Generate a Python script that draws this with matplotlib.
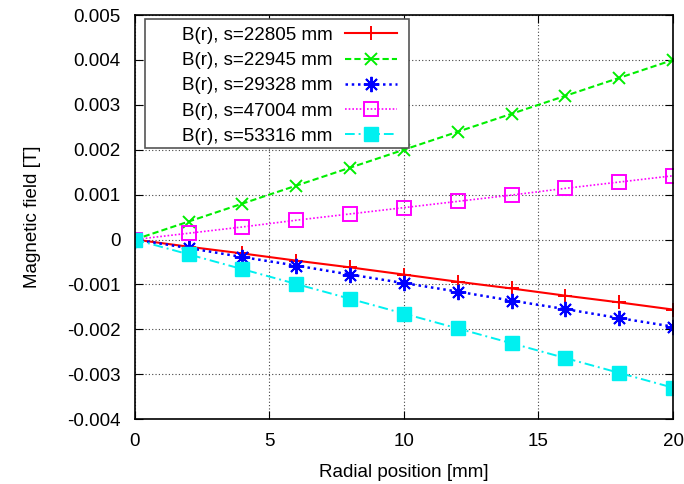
import matplotlib
matplotlib.use("Agg")
import matplotlib.pyplot as plt
from matplotlib.patches import Rectangle

plt.rcParams['font.family'] = ['Liberation Sans', 'DejaVu Sans']

r_mm = [0, 2, 4, 6, 8, 10, 12, 14, 16, 18, 20]

b_22805 = [0, -0.00016, -0.00031, -0.00047, -0.00062, -0.00078, -0.00094, -0.00109, -0.00125, -0.0014, -0.00156]
b_22945 = [0, 0.0004, 0.0008, 0.0012, 0.0016, 0.002, 0.0024, 0.0028, 0.0032, 0.0036, 0.004]
b_29328 = [0, -0.00019, -0.00039, -0.00058, -0.00078, -0.00097, -0.00116, -0.00136, -0.00155, -0.00175, -0.00194]
b_47004 = [0, 0.00014, 0.00028, 0.00043, 0.00057, 0.00071, 0.00085, 0.00099, 0.00114, 0.00128, 0.00142]
b_53316 = [0, -0.00033, -0.00066, -0.00099, -0.00132, -0.00165, -0.00198, -0.00231, -0.00264, -0.00297, -0.0033]

labels = ["B(r), s=22805 mm", "B(r), s=22945 mm", "B(r), s=29328 mm",
          "B(r), s=47004 mm", "B(r), s=53316 mm"]

fs = 13.5

fig = plt.figure(figsize=(6.84, 4.84), dpi=100)
ax = fig.add_axes([0.197, 0.134, 0.787, 0.835])

ax.plot(r_mm, b_22805, color="#ff0000", ls="-", lw=1.5, marker="+", ms=10, mew=1.4, label=labels[0])
ax.plot(r_mm, b_22945, color="#00ee00", ls=(0, (3, 1.5)), lw=1.5, marker="x", ms=9, mew=1.4, label=labels[1])
ax.plot(r_mm, b_29328, color="#0000ff", ls=(0, (1, 1.5)), lw=1.8, marker=(8, 2, 0), ms=11, mew=1.4, label=labels[2])
ax.plot(r_mm, b_47004, color="#ff00ff", ls=(0, (1, 1.2)), lw=1.2, marker="s", ms=9.5, mew=1.4,
        mfc="none", label=labels[3])
ax.plot(r_mm, b_53316, color="#00f0f0", ls=(0, (5, 2, 1, 2)), lw=1.4, marker="s", ms=9.5, mew=1.0,
        label=labels[4])

ax.set_xlim(0, 20)
ax.set_ylim(-0.004, 0.005)
ax.set_xticks([0, 5, 10, 15, 20])
ax.set_yticks([-0.004, -0.003, -0.002, -0.001, 0, 0.001, 0.002, 0.003, 0.004, 0.005])
ax.set_yticklabels(["-0.004", "-0.003", "-0.002", "-0.001", "0", "0.001", "0.002", "0.003", "0.004", "0.005"])
ax.grid(True, color="#444444", ls=(0, (1, 2)), lw=0.8)
ax.tick_params(direction="in", top=True, right=True, length=6, labelsize=fs, pad=10)
for s in ax.spines.values():
    s.set_linewidth(1.2)

ax.set_xlabel("Radial position [mm]", fontsize=fs, labelpad=10)
ax.set_ylabel("Magnetic field [T]", fontsize=fs, labelpad=19)

# gnuplot style key box: wide, text right aligned, sample on the right
box = Rectangle((0.0186, 0.672), 0.4906, 0.318, transform=ax.transAxes,
                facecolor="white", edgecolor="#555555", lw=1.2, zorder=4.5)
ax.add_patch(box)
leg = ax.legend(loc="upper right", bbox_to_anchor=(0.495, 0.98), markerfirst=False,
                fontsize=fs, frameon=False, handlelength=2.8, handletextpad=0.65,
                labelspacing=0.43, borderpad=0.2, borderaxespad=0.0)

fig.savefig("out.png", dpi=100)
